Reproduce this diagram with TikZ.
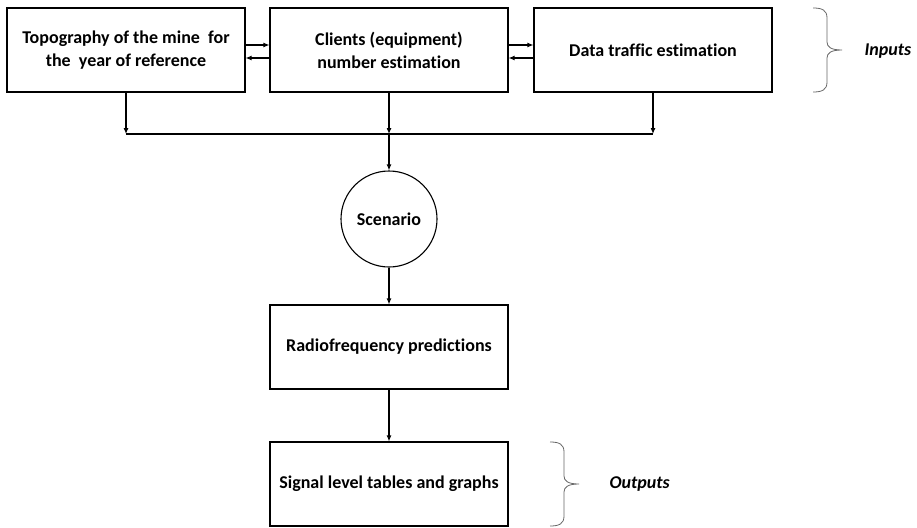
\documentclass[tikz,border=0pt]{standalone}
\usepackage{fontspec}
\setmainfont[Ligatures=NoCommon]{Carlito}
\usetikzlibrary{arrows.meta,calc}
\begin{document}
\begin{tikzpicture}[x=1pt,y=-1pt,
  box/.style={draw,line width=1.1pt,minimum width=238pt,minimum height=84pt,inner sep=0pt,align=center,font=\fontsize{18}{23}\selectfont\bfseries},
  circ/.style={draw,circle,line width=1.1pt,minimum size=96pt,inner sep=0pt,font=\fontsize{18}{22}\selectfont\bfseries},
  arr/.style={line width=1.1pt,-{Latex[length=6pt,width=5pt]}},
  ln/.style={line width=1.1pt},
  brc/.style={line width=0.8pt,draw=black!60},
  lbl/.style={font=\fontsize{18}{22}\selectfont\bfseries\itshape}]
\useasboundingbox (0,0) rectangle (917,527);
\node[box] (topo) at (126,50) {Topography of the mine\ \ for\\the\ \ year of reference};
\node[box] (cli) at (389,50) {Clients (equipment)\\number estimation};
\node[box] (data) at (653,50) {Data traffic estimation};
\node[circ] (scen) at (389,219) {Scenario};
\node[box] (rf) at (389,347) {Radiofrequency predictions};
\node[box] (sig) at (389,484) {Signal level tables and graphs};
\coordinate (jl) at (126,134);
\coordinate (jc) at (389,134);
\coordinate (jr) at (653,134);
% horizontal arrows
\draw[arr] ($(topo.east)+(0,-5)$) -- ($(cli.west)+(0,-5)$);
\draw[arr] ($(cli.west)+(0,8)$) -- ($(topo.east)+(0,8)$);
\draw[arr] ($(cli.east)+(0,-5)$) -- ($(data.west)+(0,-5)$);
\draw[arr] ($(data.west)+(0,8)$) -- ($(cli.east)+(0,8)$);
% down to bus
\draw[arr] (topo.south) -- (jl);
\draw[arr] (cli.south) -- (jc);
\draw[arr] (data.south) -- (jr);
\draw[ln] (jl) -- (jr);
\draw[arr] (jc) -- (scen.north);
\draw[arr] (scen.south) -- (rf.north);
\draw[arr] (rf.south) -- (sig.north);
% braces
\draw[brc] (813,8) .. controls (822,8) and (827,10) .. (827,18) -- (827,42) .. controls (827,47) and (831,50) .. (842,50)
  .. controls (831,50) and (827,53) .. (827,58) -- (827,82) .. controls (827,90) and (822,92) .. (813,92);
\node[lbl,anchor=west] (inp) at (861,51) {Inputs};
\draw[brc] (550,442) .. controls (559,442) and (564,444) .. (564,452) -- (564,476) .. controls (564,481) and (568,484) .. (579,484)
  .. controls (568,484) and (564,487) .. (564,492) -- (564,516) .. controls (564,524) and (559,526) .. (550,526);
\node[lbl,anchor=west] (outp) at (606,484) {Outputs};
\end{tikzpicture}
\end{document}
